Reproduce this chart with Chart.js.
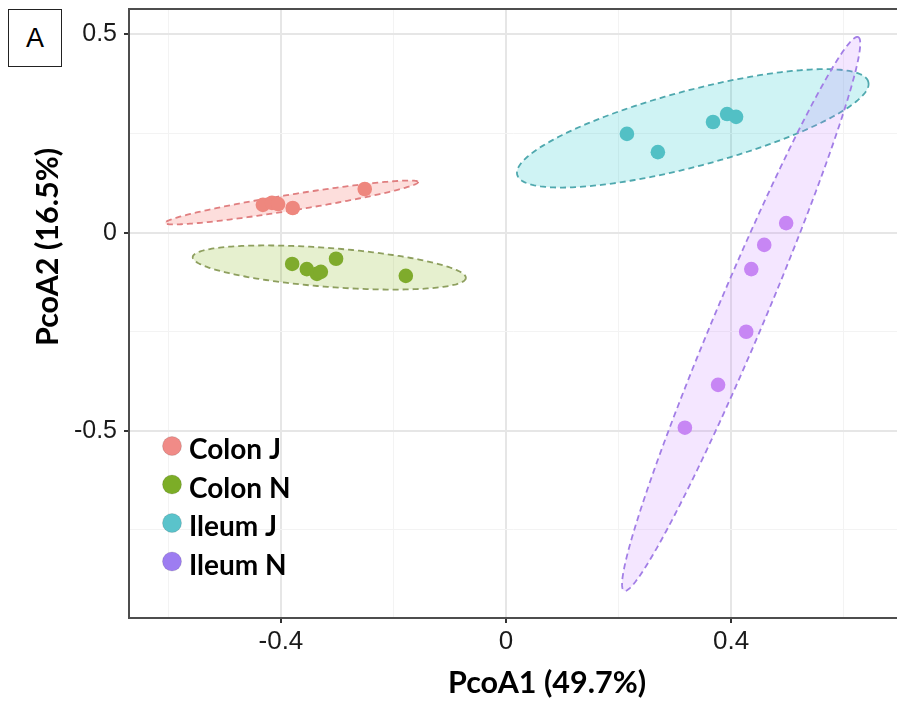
<!DOCTYPE html>
<html>
<head>
<meta charset="utf-8">
<script src="https://cdn.jsdelivr.net/npm/chart.js@4.4.0/dist/chart.umd.min.js"></script>
<style>
  html, body { margin: 0; padding: 0; background: #fff; overflow: hidden; }
  #wrap { position: relative; width: 897px; height: 704px; }
  #c { position: absolute; left: 0; top: 0; }
  #panel {
    position: absolute; left: 8px; top: 9px; width: 54px; height: 58px;
    box-sizing: border-box; border: 1px solid #222; background: #fff;
    font-family: "Liberation Sans", Arial, sans-serif; font-size: 27px; line-height: 1; color: #000;
    display: flex; align-items: center; justify-content: center;
  }
</style>
</head>
<body>
<div id="wrap">
  <canvas id="c" width="897" height="704"></canvas>
  <div id="panel">A</div>
</div>
<script>
/* PCoA ordination — four sample groups with confidence ellipses */

var groups = ['Colon J', 'Colon N', 'Ileum J', 'Ileum N'];

var colonJ_x = [-0.432, -0.416, -0.405, -0.379, -0.251];
var colonJ_y = [0.070, 0.075, 0.072, 0.062, 0.110];

var colonN_x = [-0.380, -0.354, -0.336, -0.329, -0.302, -0.178];
var colonN_y = [-0.079, -0.092, -0.104, -0.099, -0.066, -0.109];

var ileumJ_x = [0.215, 0.270, 0.368, 0.393, 0.409];
var ileumJ_y = [0.249, 0.203, 0.279, 0.299, 0.292];

var ileumN_x = [0.498, 0.459, 0.436, 0.427, 0.377, 0.318];
var ileumN_y = [0.024, -0.031, -0.092, -0.250, -0.384, -0.492];

// ellipse per group: centre and two conjugate semi-axis vectors (data units)
var ellipseCenter = [[-0.381, 0.076], [-0.314, -0.088], [0.332, 0.263], [0.418, -0.205]];
var ellipseAxisA  = [[0.2249, 0.0517], [0.2427, -0.0265], [0.3120, 0.1172], [0.2080, 0.6983]];
var ellipseAxisB  = [[0.0023, -0.0199], [-0.0027, -0.0489], [0.0172, -0.0925], [0.0393, -0.0234]];

// axis ticks (labelled) and the minor grid between them
var xMajor = [-0.4, 0, 0.4];
var xMinor = [-0.6, -0.2, 0.2, 0.6];
var yMajor = [-0.5, 0, 0.5];
var yMinor = [-0.75, -0.25, 0.25];

var xTitle = 'PcoA1 (49.7%)';
var yTitle = 'PcoA2 (16.5%)';

/* ---------- styles ---------- */
var POINT  = ['#EE877E', '#7FAB2C', '#52C0C5', '#C786F4'];
var KEY    = ['#F08B87', '#7CAD27', '#5AC3CB', '#9D7DF1'];
var FILL   = ['rgba(248,118,109,0.24)', 'rgba(124,174,0,0.19)', 'rgba(0,191,196,0.19)', 'rgba(199,124,255,0.19)'];
var EDGE   = ['#E07F80', '#8E9F5E', '#4FA8AE', '#A27EE6'];
var FONT   = 'Lato, "Open Sans", sans-serif';
var TICK_FONT = '"Liberation Sans", Arial, sans-serif';
var MAJOR_GRID = '#E6E6E6', MINOR_GRID = '#F3F3F3', AXIS = '#4D4D4D';

function pts(xs, ys) { return xs.map(function (x, i) { return { x: x, y: ys[i] }; }); }
function isIn(list, v) { return list.some(function (m) { return Math.abs(m - v) < 1e-9; }); }

var series = [pts(colonJ_x, colonJ_y), pts(colonN_x, colonN_y), pts(ileumJ_x, ileumJ_y), pts(ileumN_x, ileumN_y)];

var datasets = groups.map(function (g, i) {
  return {
    label: g, data: series[i],
    backgroundColor: POINT[i], borderWidth: 0,
    pointRadius: 7.3, pointHoverRadius: 7.3
  };
});

/* ---------- ellipses under the points ---------- */
var ellipsePlugin = {
  id: 'groupEllipses',
  beforeDatasetsDraw: function (chart) {
    var xs = chart.scales.x, ys = chart.scales.y, ctx = chart.ctx, ca = chart.chartArea;
    ctx.save();
    ctx.beginPath();
    ctx.rect(ca.left, ca.top, ca.right - ca.left, ca.bottom - ca.top);
    ctx.clip();
    ellipseCenter.forEach(function (c, i) {
      var a = ellipseAxisA[i], b = ellipseAxisB[i];
      ctx.beginPath();
      for (var k = 0; k <= 240; k++) {
        var t = k / 240 * Math.PI * 2;
        var px = xs.getPixelForValue(c[0] + a[0] * Math.cos(t) + b[0] * Math.sin(t));
        var py = ys.getPixelForValue(c[1] + a[1] * Math.cos(t) + b[1] * Math.sin(t));
        if (k) ctx.lineTo(px, py); else ctx.moveTo(px, py);
      }
      ctx.closePath();
      ctx.fillStyle = FILL[i];
      ctx.fill();
      ctx.setLineDash([6, 4]);
      ctx.lineWidth = 1.8;
      ctx.strokeStyle = EDGE[i];
      ctx.stroke();
    });
    ctx.restore();
  }
};

/* ---------- legend inside the panel + axis titles ---------- */
var annotatePlugin = {
  id: 'annotate',
  afterDraw: function (chart) {
    var ctx = chart.ctx, ca = chart.chartArea;
    ctx.save();
    // legend
    var lx = ca.left + 43, ly = ca.top + 437, step = 38.5;
    ctx.font = 'bold 28px ' + FONT;
    ctx.textBaseline = 'middle';
    ctx.textAlign = 'left';
    chart.data.datasets.forEach(function (ds, i) {
      var y = ly + i * step;
      ctx.beginPath();
      ctx.arc(lx, y, 9.5, 0, Math.PI * 2);
      ctx.fillStyle = KEY[i];
      ctx.fill();
      ctx.lineWidth = 0.8;
      ctx.strokeStyle = 'rgba(0,0,0,0.15)';
      ctx.stroke();
      ctx.fillStyle = '#000';
      ctx.fillText(ds.label, lx + 17, y + 4);
    });
    // axis titles
    ctx.font = 'bold 30.5px ' + FONT;
    ctx.textAlign = 'center';
    ctx.textBaseline = 'alphabetic';
    ctx.fillStyle = '#000';
    ctx.fillText(xTitle, ca.left + 418, chart.height - 11);
    ctx.translate(58, ca.top + 238);
    ctx.rotate(-Math.PI / 2);
    ctx.fillText(yTitle, 0, 0);
    ctx.restore();
  }
};

function gridStyle(major) {
  return {
    color: function (c) { return c.tick && isIn(major, c.tick.value) ? MAJOR_GRID : MINOR_GRID; },
    lineWidth: function (c) { return c.tick && isIn(major, c.tick.value) ? 2 : 1; },
    tickColor: function (c) { return c.tick && isIn(major, c.tick.value) ? '#333' : 'rgba(0,0,0,0)'; },
    tickWidth: 2,
    tickLength: 5,
    drawTicks: true
  };
}

new Chart(document.getElementById('c'), {
  type: 'scatter',
  data: { datasets: datasets },
  plugins: [ellipsePlugin, annotatePlugin],
  options: {
    responsive: false,
    animation: false,
    events: [],
    layout: { autoPadding: false, padding: { top: 9, left: 0, right: 0, bottom: 0 } },
    plugins: { legend: { display: false }, tooltip: { enabled: false } },
    scales: {
      x: {
        type: 'linear', position: 'bottom', min: -0.670, max: 0.695,
        afterBuildTicks: function (s) {
          s.ticks = xMajor.concat(xMinor).sort(function (a, b) { return a - b; })
            .map(function (v) { return { value: v }; });
        },
        afterFit: function (s) { s.height = 86; s.paddingLeft = 0; s.paddingRight = 0; },
        grid: gridStyle(xMajor),
        border: { display: true, color: AXIS, width: 2 },
        ticks: {
          color: '#1a1a1a', padding: 3, maxRotation: 0, autoSkip: false,
          font: { family: TICK_FONT, size: 26 },
          callback: function (v) { return isIn(xMajor, v) ? String(Math.round(v * 10) / 10) : ''; }
        }
      },
      xTop: {
        type: 'linear', position: 'top', display: true,
        afterFit: function (s) { s.height = 0; s.paddingLeft = 0; s.paddingRight = 0; },
        grid: { display: false, drawTicks: false },
        ticks: { display: false },
        border: { display: true, color: AXIS, width: 2 }
      },
      y: {
        type: 'linear', position: 'left', min: -0.972, max: 0.564,
        afterBuildTicks: function (s) {
          s.ticks = yMajor.concat(yMinor).sort(function (a, b) { return a - b; })
            .map(function (v) { return { value: v }; });
        },
        afterFit: function (s) { s.width = 129; s.paddingTop = 0; s.paddingBottom = 0; },
        grid: gridStyle(yMajor),
        border: { display: true, color: AXIS, width: 2 },
        ticks: {
          color: '#1a1a1a', padding: 7, autoSkip: false,
          font: { family: TICK_FONT, size: 25 },
          callback: function (v) { return isIn(yMajor, v) ? String(Math.round(v * 10) / 10) : ''; }
        }
      }
    }
  }
});
</script>
</body>
</html>
